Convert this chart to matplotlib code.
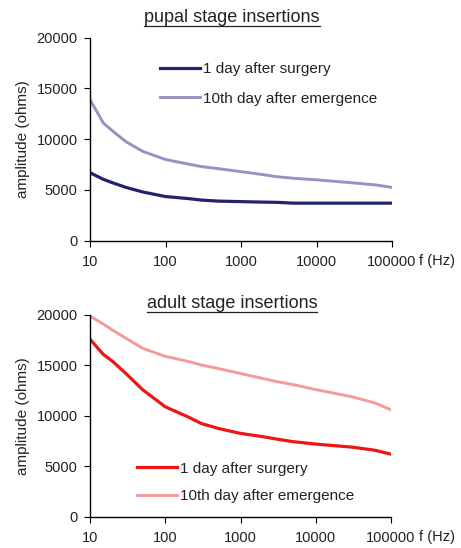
import matplotlib
matplotlib.use("Agg")
import matplotlib.pyplot as plt
from matplotlib.lines import Line2D

plt.rcParams['font.family'] = ['Liberation Sans', 'DejaVu Sans']

# Frequencies (Hz) at which amplitudes were read
freq = [10, 15, 20, 30, 50, 100, 200, 300, 500, 1000, 2000, 3000, 5000,
        10000, 30000, 60000, 100000]

# Pupal stage insertions (ohms)
pupal_day1 = [6700, 6050, 5700, 5250, 4800, 4350, 4150, 4000, 3900, 3850,
              3800, 3780, 3700, 3700, 3700, 3700, 3700]
pupal_day10 = [13900, 11600, 10800, 9750, 8800, 8000, 7550, 7300, 7100, 6800,
               6500, 6300, 6150, 6000, 5700, 5500, 5250]

# Adult stage insertions (ohms)
adult_day1 = [17600, 16100, 15400, 14200, 12600, 10900, 9900, 9250, 8760,
              8260, 7930, 7700, 7440, 7200, 6900, 6600, 6200]
adult_day10 = [19900, 19100, 18500, 17700, 16700, 15900, 15400, 15050, 14700,
               14200, 13700, 13400, 13100, 12600, 11900, 11300, 10600]

series_labels = ["1 day after surgery", "10th day after emergence"]
panel_titles = ["pupal stage insertions", "adult stage insertions"]
x_ticks = [10, 100, 1000, 10000, 100000]
y_ticks = [0, 5000, 10000, 15000, 20000]

TXT = '#222222'
fig = plt.figure(figsize=(4.61, 5.48), dpi=100)
W, H = 461, 548

def make_axes(left, top, right, bottom):
    return fig.add_axes([left / W, 1 - bottom / H, (right - left) / W,
                         (bottom - top) / H])

ax_top = make_axes(90, 37.7, 392, 240.7)
ax_bot = make_axes(90, 315, 391, 516.7)

panels = [
    (ax_top, pupal_day1, pupal_day10, "#22226e", "#9393c4",
     (0.232, 0.772), 1.02, 261),
    (ax_bot, adult_day1, adult_day10, "#ee1515", "#f59a9a",
     (0.156, 0.170), 0.86, 537),
]

for ax, d1, d10, c1, c10, leg_pos, lspace, fy in panels:
    ax.plot(freq, d1, color=c1, lw=2.3, label=series_labels[0])
    ax.plot(freq, d10, color=c10, lw=2.1, label=series_labels[1])
    ax.set_xscale('log')
    ax.set_xlim(10, 100000)
    ax.set_ylim(0, 20000)
    ax.set_xticks(x_ticks)
    ax.set_xticklabels([str(t) for t in x_ticks])
    ax.minorticks_off()
    ax.set_yticks(y_ticks)
    ax.set_yticklabels([str(t) for t in y_ticks])
    for s in ('top', 'right'):
        ax.spines[s].set_visible(False)
    for s in ('left', 'bottom'):
        ax.spines[s].set_linewidth(1.0)
        ax.spines[s].set_color('black')
    ax.tick_params(axis='both', direction='out', length=4, width=0.8,
                   labelsize=10.5, colors='black', labelcolor=TXT)
    ax.tick_params(axis='x', pad=6)
    ax.tick_params(axis='y', pad=5)
    ax.set_ylabel("amplitude (ohms)", fontsize=11, color=TXT)
    ax.yaxis.set_label_coords(-0.2, 0.5)
    fig.text(419 / W, 1 - fy / H, "f (Hz)", fontsize=10.5, color=TXT,
             ha='left', va='center')
    leg = ax.legend(loc='center left', bbox_to_anchor=leg_pos, frameon=False,
                    fontsize=11, handlelength=2.6, handletextpad=0.2,
                    labelspacing=lspace, borderaxespad=0, borderpad=0)
    for t in leg.get_texts():
        t.set_color(TXT)

title_y = [18, 304]
title_objs = []
for ty, title in zip(title_y, panel_titles):
    t = fig.text(232 / W, 1 - ty / H, title, fontsize=13, ha='center',
                 va='center', color=TXT)
    title_objs.append(t)

# Underline the panel titles
fig.canvas.draw()
renderer = fig.canvas.get_renderer()
for t in title_objs:
    bb = t.get_window_extent(renderer)
    y = bb.y0 + 1
    fig.add_artist(Line2D([bb.x0 / W, bb.x1 / W], [y / H, y / H],
                          color=TXT, lw=0.9,
                          transform=fig.transFigure))

fig.savefig("out.png", dpi=100)
